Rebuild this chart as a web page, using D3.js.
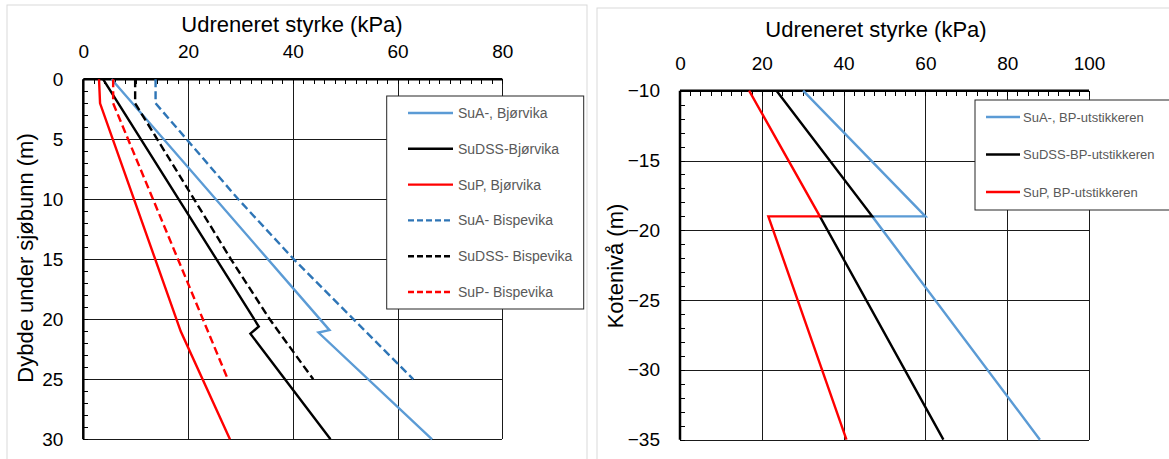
<!DOCTYPE html>
<html>
<head>
<meta charset="utf-8">
<script src="https://cdn.jsdelivr.net/npm/d3@7"></script>
<style>
  body { margin: 0; background: #fff; }
  svg { display: block; font-family: "Liberation Sans", Arial, sans-serif; }
</style>
</head>
<body>
<div id="chart"></div>
<script>
// --- data ---
const xTitle = "Udreneret styrke (kPa)";

// left panel: depth below seabed (m) vs strength (kPa)
const leftXTicks = [0, 20, 40, 60, 80];
const leftYTicks = [0, 5, 10, 15, 20, 25, 30];
const leftYTitle = "Dybde under sjøbunn (m)";
const leftNames = ["SuA-, Bjørvika", "SuDSS-Bjørvika", "SuP, Bjørvika",
                   "SuA- Bispevika", "SuDSS- Bispevika", "SuP- Bispevika"];
const suA_Bjorvika_depth   = [0, 20.9, 21.1, 30];
const suA_Bjorvika_su      = [5.4, 47.0, 44.9, 66.6];
const suDSS_Bjorvika_depth = [0, 20.6, 21.2, 30];
const suDSS_Bjorvika_su    = [3.8, 33.5, 31.9, 47.2];
const suP_Bjorvika_depth   = [0, 2, 21, 30];
const suP_Bjorvika_su      = [3.0, 3.2, 18.6, 28.0];
const suA_Bispevika_depth   = [0, 2, 10, 15, 25];
const suA_Bispevika_su      = [13.8, 13.8, 29.6, 40.2, 63.0];
const suDSS_Bispevika_depth = [0, 2, 15, 20, 25];
const suDSS_Bispevika_su    = [9.9, 9.9, 28.2, 35.6, 43.9];
const suP_Bispevika_depth   = [0, 2, 25];
const suP_Bispevika_su      = [5.7, 5.7, 27.6];

// right panel: level (m) vs strength (kPa)
const rightXTicks = [0, 20, 40, 60, 80, 100];
const rightYTicks = [-10, -15, -20, -25, -30, -35];
const rightYTitle = "Kotenivå (m)";
const rightNames = ["SuA-, BP-utstikkeren", "SuDSS-BP-utstikkeren", "SuP, BP-utstikkeren"];
const suA_BP_level   = [-10, -19, -19, -35];
const suA_BP_su      = [30.1, 60.0, 47.0, 88.0];
const suDSS_BP_level = [-10, -19, -19, -35];
const suDSS_BP_su    = [23.6, 47.0, 34.2, 64.4];
const suP_BP_level   = [-10, -19, -19, -35];
const suP_BP_su      = [16.9, 34.2, 21.6, 40.7];

const lightBlue = "#5b9bd5", darkBlue = "#2e75b6", red = "#ff0000", black = "#000000";

const zip = (ys, xs) => xs.map((v, i) => ({ x: v, y: ys[i] }));

const leftSeries = [
  { name: leftNames[0], pts: zip(suA_Bjorvika_depth, suA_Bjorvika_su), color: lightBlue, dash: null },
  { name: leftNames[1], pts: zip(suDSS_Bjorvika_depth, suDSS_Bjorvika_su), color: black, dash: null },
  { name: leftNames[2], pts: zip(suP_Bjorvika_depth, suP_Bjorvika_su), color: red, dash: null },
  { name: leftNames[3], pts: zip(suA_Bispevika_depth, suA_Bispevika_su), color: darkBlue, dash: "8,4" },
  { name: leftNames[4], pts: zip(suDSS_Bispevika_depth, suDSS_Bispevika_su), color: black, dash: "8,4" },
  { name: leftNames[5], pts: zip(suP_Bispevika_depth, suP_Bispevika_su), color: red, dash: "8,4" }
];
const rightSeries = [
  { name: rightNames[0], pts: zip(suA_BP_level, suA_BP_su), color: lightBlue, dash: null },
  { name: rightNames[1], pts: zip(suDSS_BP_level, suDSS_BP_su), color: black, dash: null },
  { name: rightNames[2], pts: zip(suP_BP_level, suP_BP_su), color: red, dash: null }
];

const svg = d3.select("#chart").append("svg")
  .attr("width", 1169)
  .attr("height", 459);

function drawPanel(p) {
  const g = svg.append("g");

  // chart frame
  g.append("rect")
    .attr("x", p.frame[0]).attr("y", p.frame[1])
    .attr("width", p.frame[2]).attr("height", p.frame[3])
    .attr("fill", "#fff").attr("stroke", "#d9d9d9");

  const x = d3.scaleLinear().domain(p.xDomain).range(p.xRange);
  const y = d3.scaleLinear().domain(p.yDomain).range(p.yRange);
  const w = p.xRange[1] - p.xRange[0], h = p.yRange[1] - p.yRange[0];

  // gridlines
  g.append("g")
    .attr("transform", `translate(0,${p.yRange[0]})`)
    .call(d3.axisTop(x).tickValues(p.xTicks).tickSize(-h).tickFormat(""))
    .call(s => s.select(".domain").remove())
    .selectAll("line").attr("stroke", "#1a1a1a").attr("shape-rendering", "crispEdges");
  g.append("g")
    .attr("transform", `translate(${p.xRange[0]},0)`)
    .call(d3.axisLeft(y).tickValues(p.yTicks).tickSize(-w).tickFormat(""))
    .call(s => s.select(".domain").remove())
    .selectAll("line").attr("stroke", "#1a1a1a").attr("shape-rendering", "crispEdges");

  // minor ticks pointing inward
  g.append("g")
    .attr("transform", `translate(0,${p.yRange[0]})`)
    .call(d3.axisTop(x).tickValues(d3.range(p.xDomain[0], p.xDomain[1] + 0.001, p.xMinor)).tickSize(-5).tickFormat(""))
    .call(s => s.select(".domain").remove())
    .selectAll("line").attr("stroke", "#000").attr("shape-rendering", "crispEdges");
  g.append("g")
    .attr("transform", `translate(${p.xRange[0]},0)`)
    .call(d3.axisLeft(y).tickValues(d3.range(0, Math.abs(p.yDomain[1] - p.yDomain[0]) + 0.001, 1)
      .map(v => p.yDomain[0] + Math.sign(p.yDomain[1] - p.yDomain[0]) * v)).tickSize(-5).tickFormat(""))
    .call(s => s.select(".domain").remove())
    .selectAll("line").attr("stroke", "#000").attr("shape-rendering", "crispEdges");

  // main axes (top and left), thick
  g.append("line")
    .attr("x1", p.xRange[0]).attr("x2", p.xRange[1])
    .attr("y1", p.yRange[0]).attr("y2", p.yRange[0])
    .attr("stroke", "#000").attr("stroke-width", 2.5);
  g.append("line")
    .attr("x1", p.xRange[0]).attr("x2", p.xRange[0])
    .attr("y1", p.yRange[0]).attr("y2", p.yRange[1])
    .attr("stroke", "#000").attr("stroke-width", 2.5);

  // tick labels
  const xl = g.append("g")
    .attr("transform", `translate(0,${p.yRange[0]})`)
    .call(d3.axisTop(x).tickValues(p.xTicks).tickSize(0).tickPadding(p.xLabelPad));
  xl.select(".domain").remove();
  xl.selectAll("text").style("font-size", "19px").style("font-family", "Liberation Sans, Arial, sans-serif").attr("fill", "#000");

  const yl = g.append("g")
    .attr("transform", `translate(${p.xRange[0]},0)`)
    .call(d3.axisLeft(y).tickValues(p.yTicks).tickSize(0).tickPadding(20));
  yl.select(".domain").remove();
  yl.selectAll("text").style("font-size", "19px").style("font-family", "Liberation Sans, Arial, sans-serif").attr("fill", "#000");

  // titles
  g.append("text")
    .attr("x", p.titleX).attr("y", p.titleY)
    .attr("text-anchor", "middle")
    .style("font-size", "22px")
    .text(xTitle);
  g.append("text")
    .attr("transform", `translate(${p.yTitleX},${p.yTitleY}) rotate(-90)`)
    .attr("text-anchor", "middle")
    .style("font-size", "22px")
    .text(p.yTitle);

  // series lines
  const line = d3.line().x(d => x(d.x)).y(d => y(d.y));
  g.selectAll("path.series")
    .data(p.series)
    .enter()
    .append("path")
    .attr("class", "series")
    .attr("d", d => line(d.pts))
    .attr("fill", "none")
    .attr("stroke", d => d.color)
    .attr("stroke-width", 2.4)
    .attr("stroke-dasharray", d => d.dash)
    .attr("stroke-linejoin", "miter");

  // legend
  const lg = g.append("g");
  lg.append("rect")
    .attr("x", p.legend.x).attr("y", p.legend.y)
    .attr("width", p.legend.w).attr("height", p.legend.h)
    .attr("fill", "#fff").attr("stroke", "#262626");
  const items = lg.selectAll("g.item")
    .data(p.series)
    .enter()
    .append("g")
    .attr("class", "item")
    .attr("transform", (d, i) => `translate(0,${p.legend.y0 + i * p.legend.step})`);
  items.append("line")
    .attr("x1", p.legend.lx1).attr("x2", p.legend.lx2)
    .attr("stroke", d => d.color)
    .attr("stroke-width", 2.4)
    .attr("stroke-dasharray", d => d.dash ? "6,3" : null);
  items.append("text")
    .attr("x", p.legend.tx)
    .attr("dy", "0.35em")
    .style("font-size", p.legend.fs)
    .attr("fill", "#595959")
    .text(d => d.name);
}

drawPanel({
  frame: [7, 5, 580, 470],
  xDomain: [0, 80], xRange: [83.3, 502.3],
  yDomain: [0, 30], yRange: [79.3, 439.3],
  xTicks: leftXTicks, yTicks: leftYTicks, xMinor: 2,
  xLabelPad: 21,
  titleX: 292, titleY: 31.5,
  yTitle: leftYTitle, yTitleX: 33, yTitleY: 258,
  series: leftSeries,
  legend: { x: 386.7, y: 96, w: 197, h: 213, y0: 113, step: 35.8, lx1: 408, lx2: 453, tx: 458, fs: "14px" }
});

drawPanel({
  frame: [597, 8, 600, 470],
  xDomain: [0, 100], xRange: [680, 1089],
  yDomain: [-10, -35], yRange: [90.7, 439.7],
  xTicks: rightXTicks, yTicks: rightYTicks, xMinor: 2.5,
  xLabelPad: 21,
  titleX: 876, titleY: 36.5,
  yTitle: rightYTitle, yTitleX: 623, yTitleY: 266,
  series: rightSeries,
  legend: { x: 975, y: 100, w: 210, h: 110, y0: 117, step: 37.5, lx1: 986, lx2: 1020, tx: 1023, fs: "13px" }
});
</script>
</body>
</html>
